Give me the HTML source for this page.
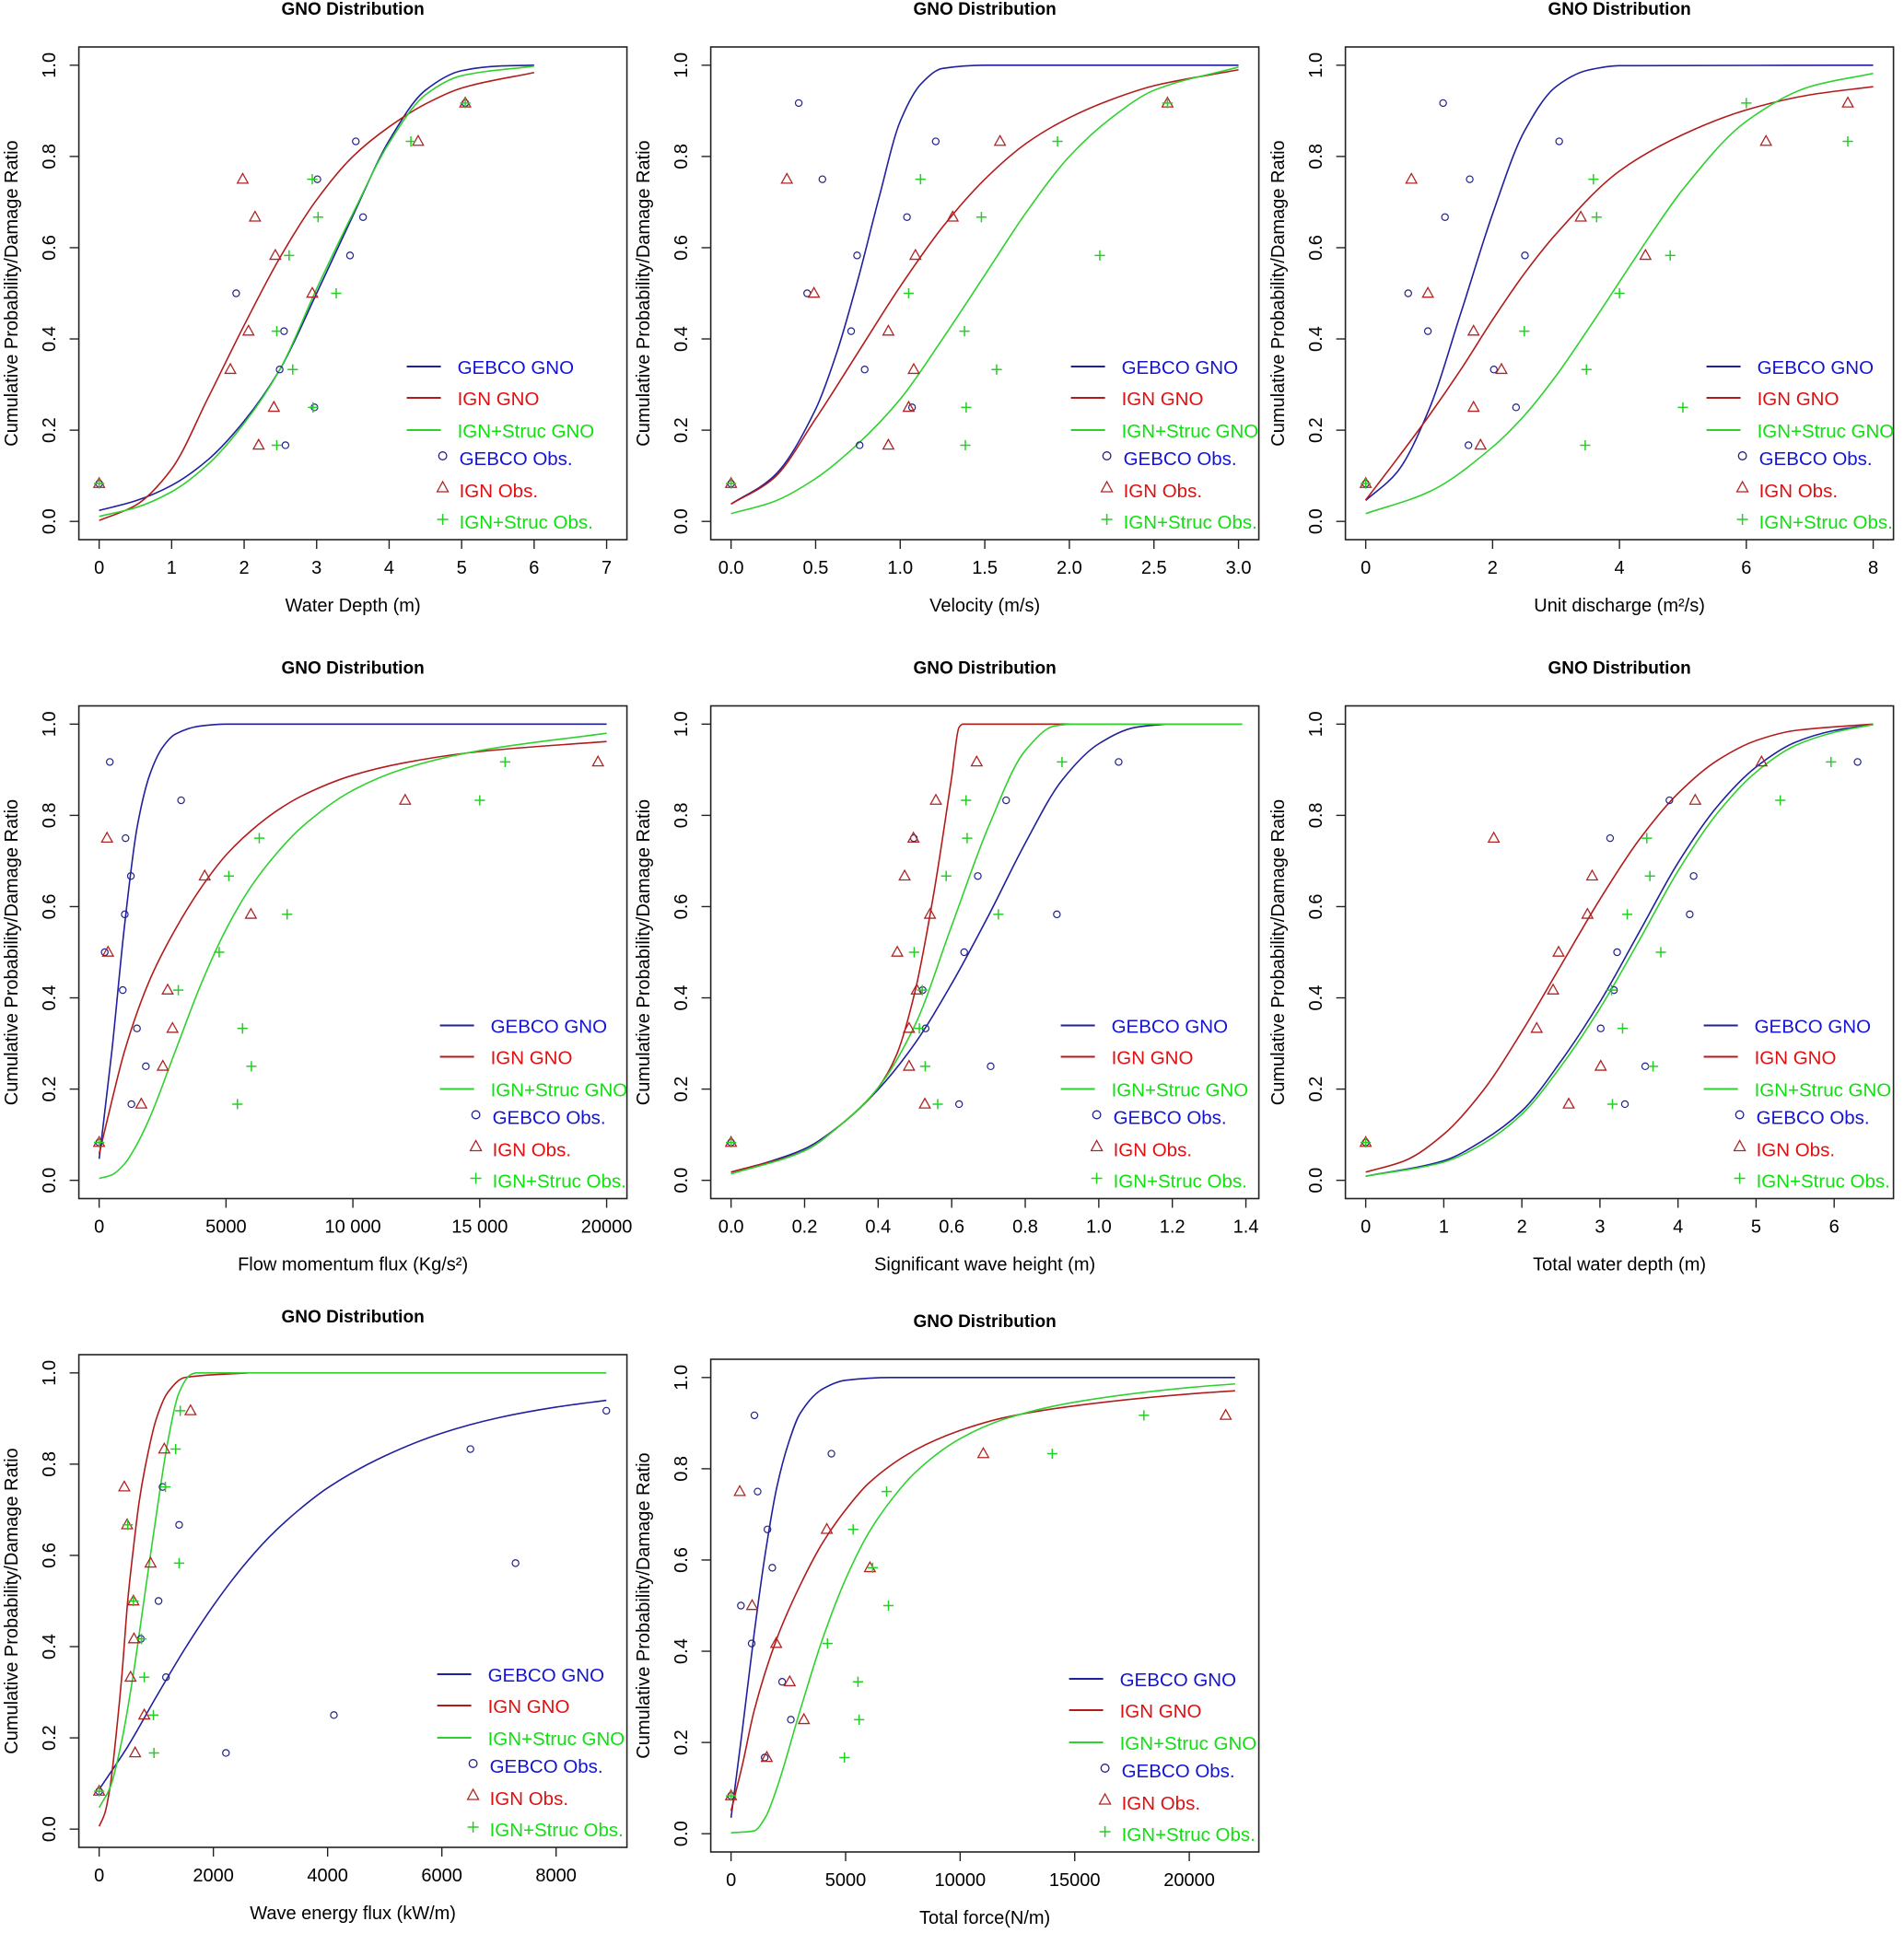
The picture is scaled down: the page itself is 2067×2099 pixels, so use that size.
<!DOCTYPE html>
<html><head><meta charset="utf-8"><title>GNO Distribution panels</title>
<style>
html,body{margin:0;padding:0;background:#fff;}
svg{display:block;font-family:"Liberation Sans",Arial,sans-serif;}
</style></head>
<body>
<svg id="root" width="2067" height="2099" viewBox="0 0 2067 2099" xmlns="http://www.w3.org/2000/svg">
<rect width="2067" height="2099" fill="#fff"/>
</svg>
<script>
// shared plotting positions (observed cumulative probability)
const obsY = [0.083,0.167,0.25,0.333,0.417,0.5,0.583,0.667,0.75,0.833,0.917];
const yTicks = [0,0.2,0.4,0.6,0.8,1.0];
const yTickLabels = ["0.0","0.2","0.4","0.6","0.8","1.0"];
const legendLabels = ["GEBCO GNO","IGN GNO","IGN+Struc GNO","GEBCO Obs.","IGN Obs.","IGN+Struc Obs."];

// Panel 1: Water depth
const p1Ticks=[0,1,2,3,4,5,6,7];
const p1TickLabels=["0","1","2","3","4","5","6","7"];
const p1GebcoObs=[0,2.57,2.97,2.49,2.55,1.89,3.46,3.64,3.01,3.54,5.05];
const p1IgnObs=[0,2.20,2.41,1.81,2.06,2.94,2.43,2.15,1.98,4.40,5.05];
const p1StrucObs=[0,2.45,2.95,2.67,2.45,3.27,2.62,3.02,2.94,4.30,5.05];
const p1GebcoCurve=[[0,0.024],[0.5,0.045],[1,0.079],[1.5,0.135],[2,0.22],[2.5,0.335],[3,0.50],[3.5,0.67],[4,0.835],[4.5,0.945],[5,0.988],[5.5,0.998],[6,1.0]];
const p1IgnCurve=[[0,0.002],[0.5,0.035],[1,0.115],[1.5,0.27],[2,0.43],[2.5,0.58],[3,0.705],[3.5,0.80],[4,0.865],[4.5,0.915],[5,0.95],[6,0.984]];
const p1StrucCurve=[[0,0.011],[0.5,0.03],[1,0.065],[1.5,0.125],[2,0.215],[2.5,0.335],[3,0.51],[3.5,0.675],[4,0.83],[4.5,0.935],[5,0.977],[6,0.998]];

// Panel 2: Velocity
const p2Ticks=[0,0.5,1,1.5,2,2.5,3];
const p2TickLabels=["0.0","0.5","1.0","1.5","2.0","2.5","3.0"];
const p2GebcoObs=[0,0.76,1.07,0.79,0.71,0.45,0.745,1.04,0.54,1.21,0.40];
const p2IgnObs=[0,0.93,1.05,1.08,0.93,0.49,1.09,1.31,0.33,1.59,2.58];
const p2StrucObs=[0,1.385,1.39,1.57,1.38,1.05,2.18,1.48,1.12,1.93,2.58];
const p2GebcoCurve=[[0,0.038],[0.25,0.098],[0.5,0.246],[0.625,0.37],[0.75,0.53],[0.875,0.71],[1.0,0.877],[1.125,0.96],[1.25,0.993],[1.5,1.0],[3,1.0]];
const p2IgnCurve=[[0,0.038],[0.25,0.094],[0.5,0.225],[0.75,0.37],[1.0,0.515],[1.25,0.645],[1.5,0.75],[1.75,0.83],[2.0,0.885],[2.25,0.925],[2.5,0.955],[3,0.99]];
const p2StrucCurve=[[0,0.017],[0.25,0.043],[0.5,0.094],[0.75,0.17],[1.0,0.268],[1.25,0.40],[1.5,0.54],[1.75,0.68],[2.0,0.80],[2.25,0.885],[2.5,0.945],[3,0.996]];

// Panel 3: Unit discharge
const p3Ticks=[0,2,4,6,8];
const p3TickLabels=["0","2","4","6","8"];
const p3GebcoObs=[0,1.62,2.37,2.02,0.98,0.67,2.51,1.25,1.64,3.05,1.22];
const p3IgnObs=[0,1.81,1.70,2.14,1.70,0.98,4.41,3.39,0.72,6.31,7.60];
const p3StrucObs=[0,3.46,5.0,3.48,2.50,4.0,4.80,3.64,3.59,7.60,6.0];
const p3GebcoCurve=[[0,0.046],[0.5,0.109],[1,0.246],[1.5,0.457],[2,0.674],[2.5,0.855],[3,0.953],[3.5,0.989],[4,0.999],[8,1.0]];
const p3IgnCurve=[[0,0.047],[0.5,0.138],[1,0.232],[1.5,0.333],[2,0.442],[2.5,0.543],[3,0.63],[4,0.768],[5,0.848],[6,0.902],[7,0.935],[8,0.953]];
const p3StrucCurve=[[0,0.017],[1,0.065],[2,0.163],[2.5,0.232],[3,0.319],[3.5,0.42],[4,0.525],[4.5,0.63],[5,0.728],[6,0.877],[7,0.953],[8,0.982]];

// Panel 4: Flow momentum flux
const p4Ticks=[0,5000,10000,15000,20000];
const p4TickLabels=["0","5000","10 000","15 000","20000"];
const p4GebcoObs=[0,1270,1840,1490,930,220,1010,1250,1040,3230,420];
const p4IgnObs=[0,1660,2510,2890,2700,350,5980,4160,310,12060,19660];
const p4StrucObs=[0,5450,6000,5650,3120,4730,7410,5110,6310,15000,16000];
const p4GebcoCurve=[[0,0.047],[500,0.283],[1000,0.558],[1500,0.775],[2000,0.89],[2500,0.949],[3000,0.978],[4000,0.996],[5000,1.0],[20000,1.0]];
const p4IgnCurve=[[0,0.058],[500,0.174],[1000,0.283],[2000,0.44],[3000,0.55],[4000,0.64],[5000,0.713],[6000,0.767],[7000,0.81],[8000,0.843],[10000,0.888],[12000,0.915],[15000,0.94],[20000,0.962]];
const p4StrucCurve=[[0,0.004],[500,0.012],[1000,0.036],[1500,0.08],[2000,0.138],[3000,0.283],[4000,0.428],[5000,0.55],[6000,0.645],[7000,0.717],[8000,0.775],[10000,0.855],[12000,0.902],[15000,0.942],[20000,0.98]];

// Panel 5: Significant wave height
const p5Ticks=[0,0.2,0.4,0.6,0.8,1.0,1.2,1.4];
const p5TickLabels=["0.0","0.2","0.4","0.6","0.8","1.0","1.2","1.4"];
const p5GebcoObs=[0,0.62,0.706,0.529,0.521,0.634,0.886,0.671,0.497,0.748,1.054];
const p5IgnObs=[0,0.527,0.484,0.484,0.505,0.452,0.541,0.472,0.496,0.557,0.668];
const p5StrucObs=[0,0.562,0.528,0.512,0.52,0.498,0.727,0.585,0.642,0.639,0.90];
const p5GebcoCurve=[[0,0.018],[0.1,0.04],[0.2,0.069],[0.3,0.123],[0.4,0.199],[0.5,0.30],[0.6,0.431],[0.7,0.58],[0.8,0.739],[0.9,0.877],[1.0,0.957],[1.1,0.993],[1.18,1.0]];
const p5IgnCurve=[[0,0.018],[0.2,0.065],[0.3,0.123],[0.4,0.203],[0.45,0.275],[0.5,0.413],[0.55,0.623],[0.6,0.884],[0.62,0.993],[0.63,1.0],[1.39,1.0]];
const p5StrucCurve=[[0,0.014],[0.2,0.065],[0.3,0.123],[0.4,0.203],[0.5,0.34],[0.6,0.558],[0.7,0.775],[0.8,0.942],[0.88,0.996],[0.93,1.0],[1.39,1.0]];

// Panel 6: Total water depth
const p6Ticks=[0,1,2,3,4,5,6];
const p6TickLabels=["0","1","2","3","4","5","6"];
const p6GebcoObs=[0,3.32,3.58,3.01,3.18,3.22,4.15,4.20,3.13,3.89,6.30];
const p6IgnObs=[0,2.60,3.01,2.19,2.40,2.47,2.84,2.90,1.64,4.22,5.07];
const p6StrucObs=[0,3.16,3.68,3.29,3.15,3.78,3.35,3.64,3.60,5.31,5.96];
const p6GebcoCurve=[[0,0.009],[1,0.043],[1.5,0.087],[2,0.152],[2.5,0.261],[3,0.391],[3.5,0.543],[4,0.696],[4.5,0.819],[5,0.906],[5.5,0.96],[6,0.986],[6.5,0.999]];
const p6IgnCurve=[[0,0.018],[0.5,0.043],[1,0.101],[1.5,0.196],[2,0.326],[2.5,0.471],[3,0.616],[3.5,0.746],[4,0.848],[4.5,0.92],[5,0.964],[5.5,0.986],[6.5,1.0]];
const p6StrucCurve=[[0,0.009],[1,0.04],[1.5,0.08],[2,0.145],[2.5,0.25],[3,0.377],[3.5,0.525],[4,0.678],[4.5,0.804],[5,0.895],[5.5,0.953],[6,0.982],[6.5,0.999]];

// Panel 7: Wave energy flux
const p7Ticks=[0,2000,4000,6000,8000];
const p7TickLabels=["0","2000","4000","6000","8000"];
const p7GebcoObs=[0,2220,4110,1170,730,1040,7290,1400,1110,6500,8880];
const p7IgnObs=[0,630,790,550,610,600,900,490,440,1140,1600];
const p7StrucObs=[0,960,950,790,740,600,1400,500,1160,1340,1420];
const p7GebcoCurve=[[0,0.087],[500,0.181],[1000,0.29],[1500,0.395],[2000,0.49],[2500,0.573],[3000,0.643],[3500,0.70],[4000,0.748],[5000,0.818],[6000,0.868],[7000,0.902],[8000,0.925],[8880,0.94]];
const p7IgnCurve=[[0,0.006],[100,0.035],[200,0.1],[300,0.21],[400,0.34],[500,0.5],[600,0.616],[700,0.717],[800,0.79],[1000,0.899],[1200,0.957],[1500,0.99],[2600,1.0]];
const p7StrucCurve=[[0,0.047],[200,0.094],[400,0.196],[600,0.341],[800,0.515],[1000,0.688],[1200,0.848],[1400,0.957],[1600,0.996],[1700,1.0],[8880,1.0]];

// Panel 8: Total force
const p8Ticks=[0,5000,10000,15000,20000];
const p8TickLabels=["0","5000","10000","15000","20000"];
const p8GebcoObs=[0,1470,2610,2230,900,430,1800,1590,1160,4380,1020];
const p8IgnObs=[0,1560,3180,2560,1970,920,6060,4180,380,11010,21590];
const p8StrucObs=[0,4950,5590,5540,4210,6870,6180,5330,6790,14020,18020];
const p8GebcoCurve=[[0,0.035],[500,0.23],[1000,0.435],[1500,0.616],[2000,0.76],[2500,0.855],[3000,0.92],[4000,0.975],[5000,0.994],[7000,1.0],[22000,1.0]];
const p8IgnCurve=[[0,0.05],[500,0.152],[1000,0.268],[2000,0.428],[3000,0.543],[4000,0.638],[5000,0.71],[6000,0.768],[8000,0.84],[10000,0.884],[12000,0.913],[15000,0.938],[20000,0.964],[22000,0.971]];
const p8StrucCurve=[[0,0.002],[1000,0.006],[1500,0.036],[2000,0.1],[3000,0.268],[4000,0.428],[5000,0.558],[6000,0.659],[7000,0.732],[8000,0.79],[10000,0.866],[12000,0.91],[15000,0.946],[20000,0.978],[22000,0.986]];

const NS="http://www.w3.org/2000/svg";
const COL={gebLine:"#1f1fa0",ignLine:"#b31b1b",strLine:"#2ed12e",
  gebTxt:"#1414d2",ignTxt:"#e01010",strTxt:"#10e010",
  gebPt:"#22228a",ignPt:"#b02424",strPt:"#22d022"};

const panels=[
 {key:"water-depth",col:0,row:0,dy:0,xmax:7,ticks:p1Ticks,labels:p1TickLabels,title:"Water Depth (m)",obs:[p1GebcoObs,p1IgnObs,p1StrucObs],curves:[p1GebcoCurve,p1IgnCurve,p1StrucCurve],legX:411},
 {key:"velocity",col:1,row:0,dy:0,xmax:3,ticks:p2Ticks,labels:p2TickLabels,title:"Velocity (m/s)",obs:[p2GebcoObs,p2IgnObs,p2StrucObs],curves:[p2GebcoCurve,p2IgnCurve,p2StrucCurve],legX:446},
 {key:"unit-discharge",col:2,row:0,dy:0,xmax:8,ticks:p3Ticks,labels:p3TickLabels,title:"Unit discharge (m²/s)",obs:[p3GebcoObs,p3IgnObs,p3StrucObs],curves:[p3GebcoCurve,p3IgnCurve,p3StrucCurve],legX:447},
 {key:"flow-momentum-flux",col:0,row:1,dy:0,xmax:20000,ticks:p4Ticks,labels:p4TickLabels,title:"Flow momentum flux (Kg/s²)",obs:[p4GebcoObs,p4IgnObs,p4StrucObs],curves:[p4GebcoCurve,p4IgnCurve,p4StrucCurve],legX:447},
 {key:"wave-height",col:1,row:1,dy:0,xmax:1.38,ticks:p5Ticks,labels:p5TickLabels,title:"Significant wave height (m)",obs:[p5GebcoObs,p5IgnObs,p5StrucObs],curves:[p5GebcoCurve,p5IgnCurve,p5StrucCurve],legX:435},
 {key:"total-water-depth",col:2,row:1,dy:0,xmax:6.5,ticks:p6Ticks,labels:p6TickLabels,title:"Total water depth (m)",obs:[p6GebcoObs,p6IgnObs,p6StrucObs],curves:[p6GebcoCurve,p6IgnCurve,p6StrucCurve],legX:444},
 {key:"wave-energy-flux",col:0,row:2,dy:0,xmax:8885,ticks:p7Ticks,labels:p7TickLabels,title:"Wave energy flux (kW/m)",obs:[p7GebcoObs,p7IgnObs,p7StrucObs],curves:[p7GebcoCurve,p7IgnCurve,p7StrucCurve],legX:444},
 {key:"total-force",col:1,row:2,dy:5,xmax:22150,ticks:p8Ticks,labels:p8TickLabels,title:"Total force(N/m)",obs:[p8GebcoObs,p8IgnObs,p8StrucObs],curves:[p8GebcoCurve,p8IgnCurve,p8StrucCurve],legX:444}
];

const colX=[0,686,1375], rowY=[0,715.5,1420];
const BL=85.6, BT=51, BW=595, BH=535;

function mk(tag,attrs,parent){const e=document.createElementNS(NS,tag);for(const k in attrs)e.setAttribute(k,attrs[k]);if(parent)parent.appendChild(e);return e;}

// monotone cubic (Fritsch-Carlson) path through data points
function monoPath(pts){
  const n=pts.length; if(n<2) return "";
  const dx=[],m=[],t=[];
  for(let i=0;i<n-1;i++){dx[i]=pts[i+1][0]-pts[i][0];m[i]=(pts[i+1][1]-pts[i][1])/dx[i];}
  t[0]=m[0]; t[n-1]=m[n-2];
  for(let i=1;i<n-1;i++){ if(m[i-1]*m[i]<=0) t[i]=0; else { t[i]=(dx[i-1]+dx[i])*3/((2*dx[i]+dx[i-1])/m[i-1]+(dx[i]+2*dx[i-1])/m[i]); } }
  let d="M"+pts[0][0].toFixed(2)+","+pts[0][1].toFixed(2);
  for(let i=0;i<n-1;i++){
    const h=dx[i]/3;
    d+=" C"+(pts[i][0]+h).toFixed(2)+","+(pts[i][1]+h*t[i]).toFixed(2)+" "+(pts[i+1][0]-h).toFixed(2)+","+(pts[i+1][1]-h*t[i+1]).toFixed(2)+" "+pts[i+1][0].toFixed(2)+","+pts[i+1][1].toFixed(2);
  }
  return d;
}

const root=document.getElementById('root');

panels.forEach(function(p,pi){
  const g=mk('svg',{x:colX[p.col],y:rowY[p.row]+p.dy,width:686,height:715,overflow:"hidden"},root);
  
  
  const range=p.xmax;
  const xs=v=>BL+(v+0.04*range)/(1.08*range)*BW;
  const ys=v=>BT+(1.04-v)/1.08*BH;

  const title=mk('text',{x:BL+BW/2,y:16,'text-anchor':'middle','font-size':'19','font-weight':'bold',fill:'#000'},g);
  title.textContent="GNO Distribution";
  
  

  const lineCols=[COL.gebLine,COL.ignLine,COL.strLine];
  const cNames=['gebco-gno-curve','ign-gno-curve','ign-struc-gno-curve'];
  p.curves.forEach(function(c,ci){
    const pts=c.map(d=>[xs(d[0]),ys(d[1])]);
    const path=mk('path',{d:monoPath(pts),fill:'none',stroke:lineCols[ci],'stroke-width':'1.6'},g);
    
    
  });

  const obsG=mk('g',{},g);
  
  
  p.obs[0].forEach(function(x,i){
    const c=mk('circle',{cx:xs(x),cy:ys(obsY[i]),r:3.6,fill:'none',stroke:COL.gebPt,'stroke-width':'1.2'},obsG);
    
    
  });
  p.obs[1].forEach(function(x,i){
    const cx=xs(x),cy=ys(obsY[i]);
    const t=mk('polygon',{points:(cx-5.8)+","+(cy+4.2)+" "+(cx+5.8)+","+(cy+4.2)+" "+cx+","+(cy-6.2),fill:'none',stroke:COL.ignPt,'stroke-width':'1.3'},obsG);
    
    
  });
  p.obs[2].forEach(function(x,i){
    const cx=xs(x),cy=ys(obsY[i]);
    const pl=mk('path',{d:"M"+(cx-5.6)+","+cy+"H"+(cx+5.6)+"M"+cx+","+(cy-5.6)+"V"+(cy+5.6),stroke:COL.strPt,'stroke-width':'1.5',fill:'none'},obsG);
    
    
  });

  const box=mk('rect',{x:BL,y:BT,width:BW,height:BH,fill:'none',stroke:'#222','stroke-width':'1.6'},g);
  
  

  const xa=mk('g',{},g);
  
  
  p.ticks.forEach(function(v,i){
    const x=xs(v);
    mk('line',{x1:x,x2:x,y1:BT+BH,y2:BT+BH+10,stroke:'#222','stroke-width':'1.4'},xa);
    const tl=mk('text',{x:x,y:623,'text-anchor':'middle','font-size':'20',fill:'#000'},xa);
    tl.textContent=p.labels[i];
    
    
  });
  const xt=mk('text',{x:BL+BW/2,y:664,'text-anchor':'middle','font-size':'20',fill:'#000'},g);
  xt.textContent=p.title;
  
  

  const ya=mk('g',{},g);
  
  
  yTicks.forEach(function(v,i){
    const y=ys(v);
    mk('line',{x1:BL-10,x2:BL,y1:y,y2:y,stroke:'#222','stroke-width':'1.4'},ya);
    const tl=mk('text',{x:0,y:0,'text-anchor':'middle','dominant-baseline':'central','font-size':'20',fill:'#000',transform:'translate(54,'+y+') rotate(-90)'},ya);
    tl.textContent=yTickLabels[i];
    
    
  });
  const yt=mk('text',{x:0,y:0,'text-anchor':'middle','dominant-baseline':'central','font-size':'20',fill:'#000',transform:'translate(13,'+(BT+BH/2)+') rotate(-90)'},g);
  yt.textContent="Cumulative Probability/Damage Ratio";
  
  

  const lg=mk('g',{},g);
  
  
  const rowsY=[348,382,417,447,482,516];
  const txtCols=[COL.gebTxt,COL.ignTxt,COL.strTxt,COL.gebTxt,COL.ignTxt,COL.strTxt];
  const tx=BL+p.legX;
  legendLabels.forEach(function(lab,i){
    const cy=BT+rowsY[i];
    if(i<3){
      mk('line',{x1:tx-55,x2:tx-18,y1:cy-1,y2:cy-1,stroke:lineCols[i],'stroke-width':'2'},lg);
    } else if(i===3){
      mk('circle',{cx:tx-16,cy:cy-3,r:4.3,fill:'none',stroke:COL.gebPt,'stroke-width':'1.3'},lg);
    } else if(i===4){
      mk('polygon',{points:(tx-22)+","+(cy+1)+" "+(tx-10)+","+(cy+1)+" "+(tx-16)+","+(cy-10),fill:'none',stroke:COL.ignPt,'stroke-width':'1.3'},lg);
    } else {
      mk('path',{d:"M"+(tx-22)+","+(cy-3)+"H"+(tx-10)+"M"+(tx-16)+","+(cy-9)+"V"+(cy+3),stroke:COL.strPt,'stroke-width':'1.5',fill:'none'},lg);
    }
    const t=mk('text',{x:(i<3?tx:tx+2),y:cy+7,'font-size':'20.5',fill:txtCols[i]},lg);
    t.textContent=lab;
    
    
  });
});
</script>
</body></html>
